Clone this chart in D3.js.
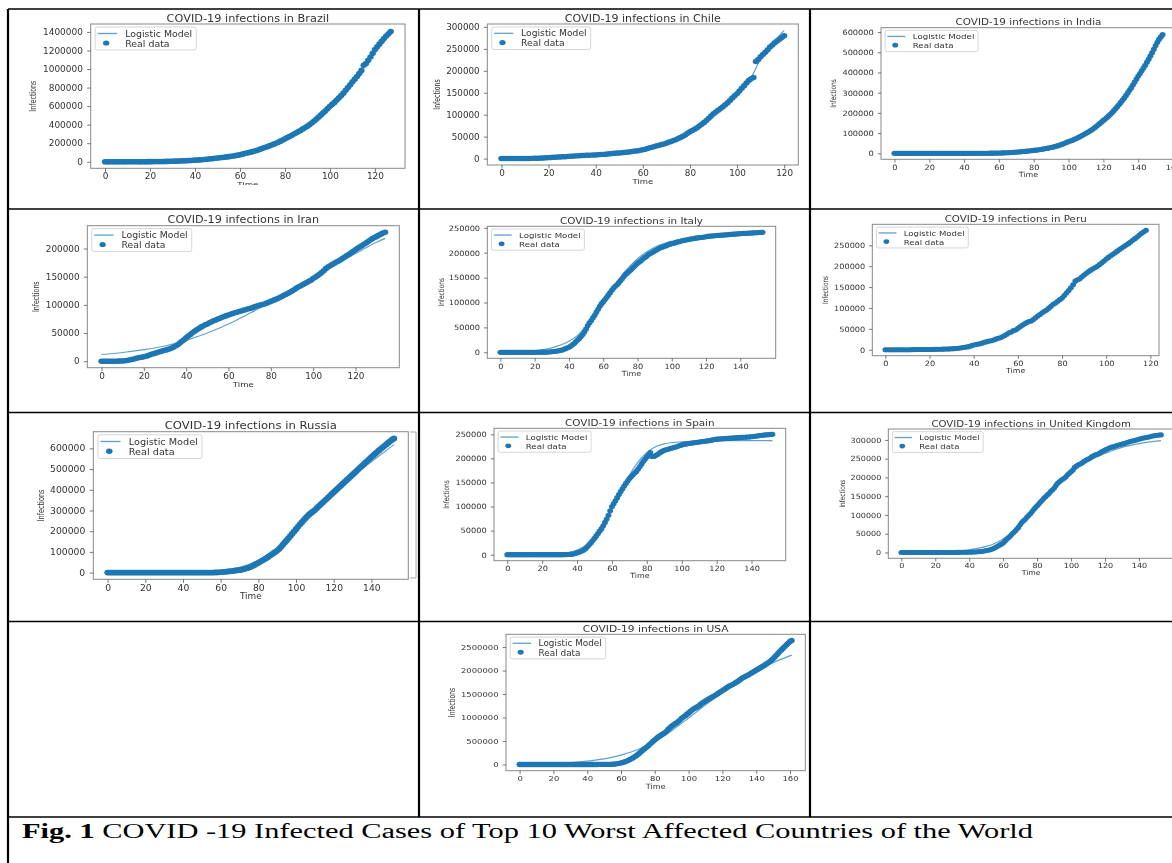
<!DOCTYPE html>
<html>
<head>
<meta charset="utf-8">
<script src="https://cdn.jsdelivr.net/npm/d3@7"></script>
<style>
  body { margin: 0; background: #fff; }
  svg { display: block; }
</style>
</head>
<body>
<div id="chart"></div>
<script>
// cumulative infections in thousands, one value per day (index = day)
var brazilCases = [0,0,0,0,0,0,0,0,0,0,
  0.05,0.07,0.1,0.15,0.2,0.25,0.3,0.45,0.6,0.8,
  1,1.2,1.5,1.9,2.2,2.6,3,3.5,4,4.7,
  5.5,6.2,7,8,9,10,11,12.5,14,15.5,
  17,18.5,20,22,24,26.5,29,31.5,34,37,
  40,42.5,45,48.5,52,55,58,62,66,71,
  76,82,88,94,100,106,112,119,127,136,
  145,153,162,171,180,190,200,211,222,235,
  248,260,272,285,298,312,326,340,354,369,
  384,402,420,440,460,482,505,528,550,574,
  598,619,640,665,690,715,740,770,800,831,
  862,891,920,952,985,1040,1060,1095,1130,1170,
  1210,1240,1270,1300,1330,1355,1380,1404];
var brazilModel = [[0,3],[20,6],[40,18],[50,38],[60,72],[70,140],[80,245],[90,385],[100,590],[110,860],[120,1200],[127,1415]];

var chileCases = [0,0,0,0,0,0,0,0,0.1,0.15,
  0.2,0.3,0.4,0.5,0.6,0.75,0.9,1.2,1.5,1.8,
  2.2,2.5,2.8,3.1,3.4,3.7,4,4.4,4.8,5.1,
  5.5,5.8,6.2,6.5,6.9,7.1,7.4,7.6,7.9,8.1,
  8.4,8.8,9.2,9.6,10,10.5,11,11.5,12,12.5,
  13,13.5,14,14.5,15,15.7,16.5,17.2,18,19,
  20,21.5,23,24.5,26,27.5,29,30.5,32,33.5,
  35,37,39,41,43,45.5,48,51,54,57.5,
  61,64,67,70.5,74,78,82,87,92,97,
  102,106,110,114,118,122.5,127,132.5,138,143,
  148,154,160,166,172,178,182,185,221,226,
  232,237,242,248,254,259,264,268,272,276,
  280];
var chileModel = [[0,0.5],[20,2],[40,8],[60,19],[70,34],[80,61],[90,102],[100,148],[105,176],[110,226],[115,262],[120,292]];

var indiaCases = [0,0,0,0,0,0,0,0,0,0,
  0,0,0,0,0,0,0,0,0,0,
  0,0,0,0,0,0,0,0,0,0,
  0,0,0,0,0,0,0.03,0.03,0.04,0.05,
  0.06,0.07,0.08,0.09,0.11,0.12,0.14,0.17,0.2,0.23,
  0.26,0.33,0.4,0.48,0.56,0.68,0.8,0.93,1.07,1.2,
  1.4,1.7,2,2.3,2.6,3,3.5,4.1,4.8,5.4,
  6,6.7,7.5,8.2,9,9.7,10.5,11.5,12.5,13.5,
  14.5,15.5,16.5,17.7,19,20.5,22,23.7,25.5,27.2,
  29,31,33,35.5,38,41,44,47.5,51,54.5,
  58,61,64,68,72,76,80,84.5,89,94,
  99,104,109,114.5,120,127,134,141,148,155.5,
  163,170,177,185,193,202,211,221,231,241.5,
  252,263,274,286.5,299,312,325,339,353,367.5,
  382,395,408,422,436,451,466,482,498,515.5,
  533,549,565,576,587];
var indiaModel = [[0,0],[40,0.1],[60,1.5],[70,6],[80,14.5],[90,29],[100,58],[110,99],[120,163],[130,252],[140,382],[150,533],[154,592]];

var iranCases = [0,0.01,0.02,0.03,0.04,0.06,0.1,0.14,0.25,0.39,
  0.6,1,1.5,2.3,2.9,3.5,4.7,5.8,6.6,7.2,
  8,9,10,11.4,12.7,13.9,15,16.2,17.4,18.4,
  19.6,20.6,21.6,23,24.8,27,29.4,32.3,35.4,38.3,
  41.5,44.6,47.6,50.5,53.2,55.7,58.2,60.5,62.6,64.6,
  66.2,68.2,70,71.7,73.3,74.9,76.4,78,79.5,80.9,
  82.2,83.5,84.8,85.9,87,88.2,89.3,90.5,91.5,92.6,
  93.6,94.6,96,97.4,98.6,99.7,100.8,101.7,103.1,104.7,
  106.2,107.6,109.3,110.8,112.7,114.5,116.6,118.4,120.2,122.5,
  124.6,126.9,129.3,131.7,133.5,135.7,137.7,139.5,142,143.8,
  146.7,148.9,151.5,154.4,157.6,160.7,164.3,167.2,169.4,171.8,
  173.8,175.9,177.9,180.2,182.5,184.9,187.4,189.9,192.4,195,
  197.6,200.3,202.6,204.9,207.5,209.9,212.5,215,217.5,219.5,
  221.5,223.5,225.5,227.3,229];
var iranModel = [[0,12],[10,15.5],[20,20.5],[30,27],[40,37],[50,50],[60,66],[70,85],[80,105],[90,126],[100,148],[110,170],[120,191],[130,211],[134,218]];

var italyCases = [0,0,0,0,0,0,0,0,0,0,
  0,0,0,0,0,0,0,0,0,0,
  0,0,0.02,0.08,0.15,0.23,0.32,0.45,0.65,0.89,
  1.13,1.69,2.04,2.5,3.09,3.86,4.64,5.88,7.38,9.17,
  10.1,12.5,15.1,17.7,21.2,24.7,27.9,31.5,35.7,41,
  47,53.6,59.1,63.9,69.2,74.4,80.6,86.5,92.5,97.7,
  101.7,105.8,110.6,115.2,119.8,124.6,128.9,132.5,135.6,139.4,
  143.6,147.6,152.3,156.4,159.5,162.5,165.2,168.9,172.4,175.9,
  179,181.2,184,187.3,190,192,195.4,197.7,199.4,201.5,
  203.6,205.5,207.4,209.3,210.7,211.9,213,214.5,215.9,217.2,
  218.3,219.1,219.8,221.2,222.1,223.1,224,224.8,225.4,226,
  226.7,227.4,228,228.7,229.3,229.9,230.2,230.6,231.1,231.6,
  232,232.7,233.2,233.5,233.8,234,234.5,234.8,235,235.3,
  235.6,235.8,236.1,236.3,236.7,236.9,237.3,237.5,237.8,238,
  238.3,238.5,238.7,238.8,239,239.4,239.6,239.7,240,240.1,
  240.4,240.6,240.8,241];
var italyModel = [[0,0.6],[10,1.5],[20,3.5],[30,9],[40,22],[45,34],[50,52],[55,75],[60,100],[65,126],[70,150],[75,171],[80,188],[85,201],[90,211],[100,223],[110,230],[120,233.5],[130,235.5],[140,236.5],[153,237]];

var peruCases = [0,0,0,0.01,0.01,0.02,0.02,0.03,0.04,0.06,
  0.09,0.12,0.26,0.32,0.4,0.4,0.4,0.44,0.48,0.53,
  0.58,0.7,0.85,0.95,1.07,1.3,1.41,1.6,1.75,2,
  2.3,2.6,2.95,3.6,4.3,5.1,5.9,6.8,7.5,9.8,
  11.5,12.5,13.5,14.4,16.3,17.8,19.3,20.9,21.6,23.3,
  25.3,27.5,28.7,31.2,33.9,37,40.5,42.5,45.9,47.4,
  51.2,54.8,58.5,61.9,65,67.3,68.8,72.1,76.3,80.6,
  84.5,88.5,92.3,94.9,99.5,104,108.8,111.7,115.8,119.9,
  124,129.7,135.9,141.8,148.3,155.7,164.5,167.5,170,174.5,
  178.9,183,187,190.5,194,197,200,204,208,212.5,
  217,221,225,228.5,232,236,240,243.5,247,250.5,
  254,258,262,266,270,274.5,279,282.5,286];
var peruModel = [[0,0],[20,0.6],[40,11],[50,25],[60,51],[70,84],[80,124],[90,178],[100,217],[110,254],[118,286]];

var russiaCases = [0,0,0,0,0,0,0,0,0,0,
  0,0,0,0,0,0,0,0,0,0,
  0,0,0,0,0,0,0,0,0,0,
  0,0,0,0,0,0,0,0,0,0,
  0,0,0,0,0,0,0,0,0,0,
  0.03,0.05,0.06,0.1,0.15,0.2,0.3,0.5,0.84,1.26,
  2.3,2.8,3.5,4.1,5.4,6.3,7.5,8.7,10.1,11,
  11.9,13.6,15.8,18.3,21.1,24.5,27.9,32,36.8,42.9,
  47.1,52.8,57.9,62.8,68.6,74.6,80.9,87.1,93.6,99.4,
  106.5,114.4,124.1,134.7,145.3,155.4,165.9,177.2,187.9,198.7,
  209.7,221.3,232.2,242.3,252.2,262.8,272,281,288,295,
  302,311,320,328.5,337,345.5,354,362.5,371,379.5,
  388,396.5,405,413.5,422,430.5,439,447.5,456,464.5,
  473,481.5,490,498.5,507,515.5,524,532.5,541,549.5,
  558,566,574,582,590,597.5,605,612.5,620,627.5,
  635,641.5,648];
var russiaModel = [[0,0.1],[20,0.3],[40,1.5],[50,4],[60,10],[70,25],[80,58],[90,115],[100,200],[110,295],[120,385],[130,465],[140,535],[152,618]];

var spainCases = [0,0,0,0,0,0,0,0,0,0,
  0,0,0,0,0,0,0,0,0,0,
  0,0,0,0,0,0,0,0,0,0,
  0,0,0.1,0.15,0.2,0.3,0.5,0.9,1.5,2.5,
  4,5,6.5,8,10,13,17,21,25,29.5,
  34,39,44,49,54,60,67,74,82,91,
  100,106,112,118.5,125,131,137,142.5,148,153,
  158,162,166,169.5,173,178,183,188.5,194,198.5,
  203,207.5,212,204,204,206,208,210.5,213,215,
  217,218,219,220,221,222,223,224.2,225.5,226.8,
  228,228.8,229.5,230.2,231,231.5,232,232.5,233,233.5,
  234,234.5,235,235.5,236,236.5,237,237.8,238.5,239.3,
  240,240.2,240.5,240.8,241,241.2,241.5,241.8,242,242.2,
  242.5,242.8,243,243.2,243.5,243.8,244,244.2,244.5,244.8,
  245,245.5,246,246.5,247,247.5,248,248.4,248.8,249.2,
  249.5,249.8,250];
var spainModel = [[0,0.1],[20,0.6],[30,2],[40,9.5],[45,19],[50,37],[55,62],[60,95],[65,130],[70,165],[75,193],[80,212],[85,224],[90,230],[100,234.5],[110,236],[120,236.8],[152,237]];

var ukCases = [0,0,0,0,0,0,0,0,0,0,
  0,0,0,0,0,0,0,0,0,0,
  0,0,0,0,0,0,0,0,0.02,0.03,
  0.04,0.04,0.05,0.09,0.12,0.16,0.21,0.27,0.32,0.38,
  0.46,0.59,0.8,1.1,1.4,1.54,1.95,2.6,3.3,4,
  5,5.7,6.7,8.1,9.6,11.7,14.5,17.1,19.5,22.1,
  25.2,29.5,34.2,38.2,42.5,48,52.3,56.2,61.5,66.8,
  73.8,79.9,84.3,88.6,93.9,98.5,103.1,108.7,114.2,120,
  124.7,129,134.6,139,144.6,148.4,153,157.1,162.4,166.4,
  171.3,177.5,183.5,187.8,191.8,194.9,198,202,207,211.4,
  215.3,219.2,226.5,229.7,233.2,235,237,240.2,244.1,246.4,
  248.3,250.9,254.2,257.2,259.6,261.2,262.5,265.2,268.6,270.5,
  272.8,274.8,277,279,280.8,282,283.3,284.9,286.3,287.4,
  289.1,290.1,291.4,293,294.4,295.9,296.9,298.1,299.3,300.5,
  301.8,303.1,304.3,305.3,306.2,307,307.9,309.4,310.3,311.2,
  312,312.6,313.2,313.5];
var ukModel = [[0,0.3],[10,0.6],[20,1.3],[30,3],[40,7],[50,16],[55,24],[60,36],[65,53],[70,74],[75,98],[80,123],[85,148],[90,172],[95,193],[100,212],[110,243],[120,264],[130,280],[140,290],[153,298]];

var usaCases = [0,0,0,0,0,0,0,0,0,0,
  0,0,0,0,0,0,0,0,0,0,
  0,0,0,0,0,0,0,0,0,0,
  0,0,0,0,0,0,0,0,0,0,
  0.07,0.09,0.1,0.15,0.2,0.3,0.4,0.55,0.7,0.85,
  1,1.3,1.7,2.5,3.5,5.5,7.8,13.7,19.1,25.5,
  33.3,43.8,53.7,68.6,83.8,101.7,121.5,140.9,163.5,188.2,
  215.2,244.9,276.1,308.9,337.1,366.6,396.2,429.1,461.4,496.5,
  526.4,555.3,585.4,608.5,634.4,656.6,680.4,710,752.2,784.3,
  815.1,843.2,867.4,891.3,918.8,951.7,989.4,1015.6,1040.5,1070.7,
  1099.1,1130.1,1158.2,1184.5,1204.4,1226.7,1249.8,1277.4,1306.9,1330.1,
  1354.1,1376,1396.1,1416.1,1437.3,1456.9,1478.5,1501.4,1527.3,1549.4,
  1572.9,1597.1,1619.6,1646.3,1667.3,1685,1701.1,1722.4,1746.1,1769.3,
  1795.7,1822.1,1847.1,1864.2,1881.6,1900.5,1920.2,1943.3,1965.7,1987.1,
  2007.4,2027.9,2049.9,2070.3,2093.3,2115.6,2139.4,2165.4,2191.1,2221.4,
  2255.1,2290,2330,2370,2410,2445,2480,2515,2550,2585,
  2620,2640];
var usaModel = [[0,8],[10,14],[20,24],[30,42],[40,72],[50,120],[60,200],[70,320],[80,490],[90,720],[100,990],[110,1270],[120,1540],[130,1790],[140,2000],[150,2170],[161,2330]];

// tick values
var xTicks120 = [0, 20, 40, 60, 80, 100, 120];
var xTicks140 = [0, 20, 40, 60, 80, 100, 120, 140];
var xTicks160 = [0, 20, 40, 60, 80, 100, 120, 140, 160];
var brazilYTicks = [0, 200000, 400000, 600000, 800000, 1000000, 1200000, 1400000];
var chileYTicks = [0, 50000, 100000, 150000, 200000, 250000, 300000];
var indiaYTicks = [0, 100000, 200000, 300000, 400000, 500000, 600000];
var iranYTicks = [0, 50000, 100000, 150000, 200000];
var italyYTicks = [0, 50000, 100000, 150000, 200000, 250000];
var peruYTicks = [0, 50000, 100000, 150000, 200000, 250000];
var russiaYTicks = [0, 100000, 200000, 300000, 400000, 500000, 600000];
var spainYTicks = [0, 50000, 100000, 150000, 200000, 250000];
var ukYTicks = [0, 50000, 100000, 150000, 200000, 250000, 300000];
var usaYTicks = [0, 500000, 1000000, 1500000, 2000000, 2500000];

var captionBold = 'Fig. 1';
var captionRest = ' COVID -19 Infected Cases of Top 10 Worst Affected Countries of the World';

var svgWidth = 1172;
var svgHeight = 863;
var SX = 1.12;          // the pasted plots are stretched sideways a bit
var blue = '#1f77b4';

var svg = d3.select('#chart').append('svg')
  .attr('width', svgWidth)
  .attr('height', svgHeight);

svg.append('rect').attr('width', svgWidth).attr('height', svgHeight).attr('fill', '#fff');

// slight softness, the source is a scanned figure
svg.append('defs').append('filter')
  .attr('id', 'soft')
  .append('feGaussianBlur')
  .attr('stdDeviation', 0.35);

// frame box [left, right, top, bottom], table cell [x0, y0, x1, y1], font scale k
var panels = [
  { name: 'Brazil', cases: brazilCases, model: brazilModel, xTicks: xTicks120, yTicks: brazilYTicks,
    box: [90.7, 405, 24, 168.3], cell: [8, 9, 419, 185], k: 1, yLabelX: 33 },
  { name: 'Chile', cases: chileCases, model: chileModel, xTicks: xTicks120, yTicks: chileYTicks,
    box: [487.3, 798.3, 24, 165], cell: [419, 9, 810, 209], k: 0.98, yLabelX: 437 },
  { name: 'India', cases: indiaCases, model: indiaModel, xTicks: xTicks160, yTicks: indiaYTicks,
    box: [881, 1176, 27.7, 159.3], cell: [810, 9, 1172, 209], k: 0.92, yLabelX: 833 },
  { name: 'Iran', cases: iranCases, model: iranModel, xTicks: xTicks120, yTicks: iranYTicks,
    box: [87.3, 399.3, 225.7, 367.7], cell: [8, 209, 419, 412.5], k: 0.99, yLabelX: 36 },
  { name: 'Italy', cases: italyCases, model: italyModel, xTicks: xTicks140, yTicks: italyYTicks,
    box: [487.3, 775.7, 226.3, 358.3], cell: [419, 209, 810, 412.5], k: 0.92, yLabelX: 441 },
  { name: 'Peru', cases: peruCases, model: peruModel, xTicks: xTicks120, yTicks: peruYTicks,
    box: [872.3, 1159, 224.3, 355.7], cell: [810, 209, 1172, 412.5], k: 0.91, yLabelX: 825 },
  { name: 'Russia', cases: russiaCases, model: russiaModel, xTicks: xTicks140, yTicks: russiaYTicks,
    box: [93.3, 408.3, 431.7, 579.3], cell: [8, 412.5, 419, 621.5], k: 1.03, yLabelX: 40.7 },
  { name: 'Spain', cases: spainCases, model: spainModel, xTicks: xTicks140, yTicks: spainYTicks,
    box: [494, 785.7, 428.3, 560.7], cell: [419, 412.5, 810, 621.5], k: 0.92, yLabelX: 446.7 },
  { name: 'United Kingdom', cases: ukCases, model: ukModel, xTicks: xTicks140, yTicks: ukYTicks,
    box: [888.3, 1174, 429, 558.3], cell: [810, 412.5, 1172, 621.5], k: 0.9, yLabelX: 842.7 },
  { name: 'USA', cases: usaCases, model: usaModel, xTicks: xTicks160, yTicks: usaYTicks,
    box: [506, 805.3, 634.3, 770.7], cell: [419, 621.5, 810, 817], k: 0.945, yLabelX: 452.3 }
];

// text helper, stretched sideways like the source image
function label(g, x, y, str, size, anchor) {
  return g.append('text')
    .attr('transform', `translate(${x}, ${y}) scale(${SX}, 1)`)
    .attr('text-anchor', anchor || 'middle')
    .attr('font-family', 'DejaVu Sans')
    .attr('font-size', size)
    .attr('fill', '#333')
    .text(str);
}

function styleAxis(axisG, k) {
  axisG.attr('font-family', 'DejaVu Sans').attr('font-size', 8 * k);
  axisG.select('.domain').remove();
  axisG.selectAll('line').attr('stroke', '#555').attr('stroke-width', 0.8);
  axisG.selectAll('text').attr('fill', '#333').attr('transform', `scale(${SX}, 1)`);
}

function drawPanel(p, i) {
  var k = p.k;
  var left = p.box[0], right = p.box[1], top = p.box[2], bottom = p.box[3];

  var clipId = 'cell' + i;
  svg.append('clipPath').attr('id', clipId)
    .append('rect')
    .attr('x', p.cell[0]).attr('y', p.cell[1])
    .attr('width', p.cell[2] - p.cell[0])
    .attr('height', p.cell[3] - p.cell[1]);

  var outer = svg.append('g').attr('clip-path', `url(#${clipId})`);
  var g = outer.append('g').attr('filter', 'url(#soft)');

  var real = p.cases.map((v, day) => [day, v]);

  // matplotlib style autoscale: data range plus 5% each side
  var all = real.concat(p.model);
  var xExt = d3.extent(all, d => d[0]);
  var yExt = d3.extent(all, d => d[1] * 1000);
  var xPad = (xExt[1] - xExt[0]) * 0.05;
  var yPad = (yExt[1] - yExt[0]) * 0.05;

  var x = d3.scaleLinear().domain([xExt[0] - xPad, xExt[1] + xPad]).range([left, right]);
  var y = d3.scaleLinear().domain([yExt[0] - yPad, yExt[1] + yPad]).range([bottom, top]);

  // logistic model line
  var line = d3.line()
    .x(d => x(d[0]))
    .y(d => y(d[1] * 1000))
    .curve(d3.curveMonotoneX);

  g.append('path')
    .datum(p.model)
    .attr('d', line)
    .attr('fill', 'none')
    .attr('stroke', blue)
    .attr('stroke-opacity', 0.7)
    .attr('stroke-width', 1.2);

  // real data
  g.append('g').selectAll('ellipse')
    .data(real)
    .enter()
    .append('ellipse')
    .attr('cx', d => x(d[0]))
    .attr('cy', d => y(d[1] * 1000))
    .attr('rx', 3.2 * k)
    .attr('ry', 2.8 * k)
    .attr('fill', blue);

  // frame
  g.append('rect')
    .attr('x', left).attr('y', top)
    .attr('width', right - left).attr('height', bottom - top)
    .attr('fill', 'none')
    .attr('stroke', '#888')
    .attr('stroke-width', 1);

  // axes
  var xAxis = g.append('g')
    .attr('transform', `translate(0, ${bottom})`)
    .call(d3.axisBottom(x).tickValues(p.xTicks).tickSize(3.5 * k).tickPadding(2 * k).tickFormat(d3.format('d')));
  styleAxis(xAxis, k);

  var yAxis = g.append('g')
    .attr('transform', `translate(${left}, 0)`)
    .call(d3.axisLeft(y).tickValues(p.yTicks).tickSize(3.5 * k).tickPadding(3.5 * k).tickFormat(d3.format('d')));
  styleAxis(yAxis, k);

  // title and axis labels
  var cx = (left + right) / 2;
  label(g, cx, top - 2.5 * k, `COVID-19 infections in ${p.name}`, 10.1 * k);
  label(g, cx, bottom + 19 * k, 'Time', 7.7 * k);

  g.append('text')
    .attr('transform', `translate(${p.yLabelX + 3 * k}, ${(top + bottom) / 2}) rotate(-90)`)
    .attr('text-anchor', 'middle')
    .attr('font-family', 'DejaVu Sans')
    .attr('font-size', 8.5 * k)
    .attr('fill', '#333')
    .attr('textLength', 31 * k)
    .attr('lengthAdjust', 'spacingAndGlyphs')
    .text('Infections');

  // legend
  var lg = g.append('g').attr('transform', `translate(${left + 4.5 * k}, ${top + 3 * k})`);
  lg.append('rect')
    .attr('width', 101 * k).attr('height', 23 * k)
    .attr('rx', 2)
    .attr('fill', '#fff').attr('fill-opacity', 0.85)
    .attr('stroke', '#ccc').attr('stroke-width', 0.8);
  lg.append('line')
    .attr('x1', 2.5 * k).attr('x2', 22 * k)
    .attr('y1', 6.5 * k).attr('y2', 6.5 * k)
    .attr('stroke', blue).attr('stroke-opacity', 0.7).attr('stroke-width', 1.3);
  lg.append('ellipse')
    .attr('cx', 11 * k).attr('cy', 16 * k)
    .attr('rx', 3.2 * k).attr('ry', 2.6 * k)
    .attr('fill', blue);
  label(lg, 30 * k, 9.5 * k, 'Logistic Model', 8.4 * k, 'start');
  label(lg, 30 * k, 19.5 * k, 'Real data', 8.4 * k, 'start');
}

panels.forEach(drawPanel);

// stray border of the Russia picture
svg.append('path')
  .attr('d', 'M410,432H416V578H410')
  .attr('fill', 'none')
  .attr('stroke', '#aaa')
  .attr('stroke-width', 1);

// table rules
var rowLines = [9, 209, 412.5, 621.5, 817];
svg.selectAll('line.row')
  .data(rowLines)
  .enter()
  .append('line')
  .attr('x1', 8).attr('x2', svgWidth)
  .attr('y1', d => d).attr('y2', d => d)
  .attr('stroke', '#000')
  .attr('stroke-width', 1.6);

svg.append('line').attr('x1', 8).attr('x2', 8).attr('y1', 9).attr('y2', svgHeight)
  .attr('stroke', '#000').attr('stroke-width', 2.2);
[419, 810].forEach(function(cx) {
  svg.append('line').attr('x1', cx).attr('x2', cx).attr('y1', 9).attr('y2', 817)
    .attr('stroke', '#000').attr('stroke-width', 2.2);
});

// caption
var caption = svg.append('text')
  .attr('x', 22)
  .attr('y', 838)
  .attr('font-family', 'Liberation Serif')
  .attr('font-size', 21.6)
  .attr('fill', '#000')
  .attr('textLength', 1011)
  .attr('lengthAdjust', 'spacingAndGlyphs');
caption.append('tspan').attr('font-weight', 'bold').text(captionBold);
caption.append('tspan').text(captionRest);
</script>
</body>
</html>
